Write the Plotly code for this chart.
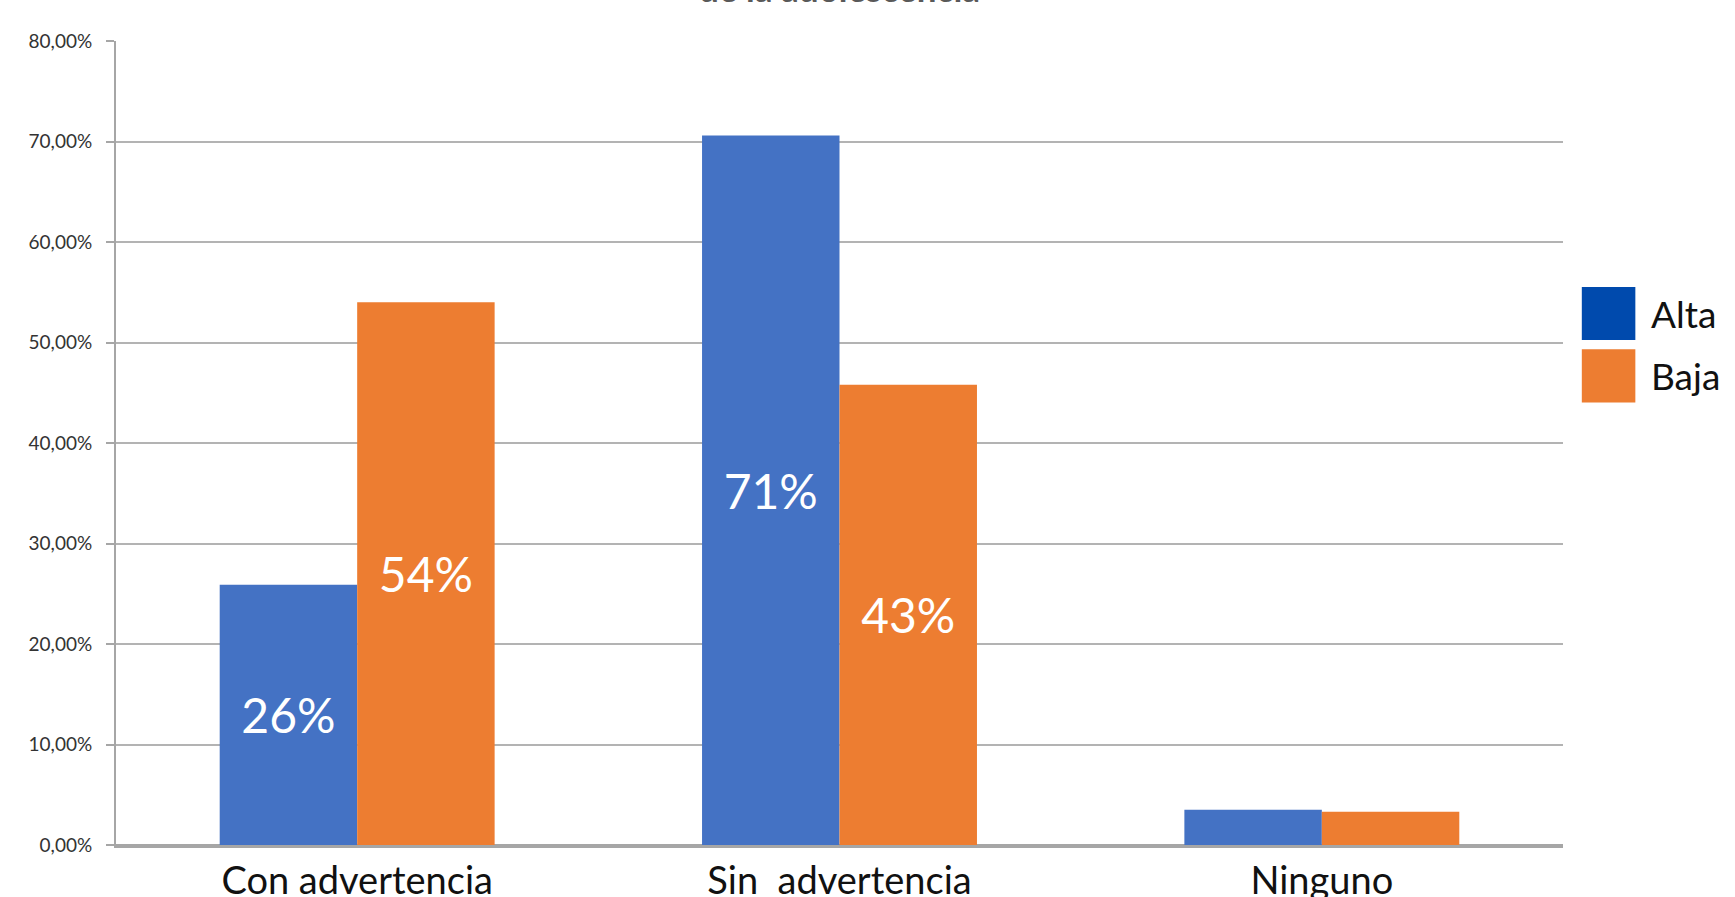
import plotly.graph_objects as go

categories = ["Con advertencia", "Sin\u00a0 advertencia", "Ninguno"]
alta = [25.9, 70.6, 3.5]
baja = [54.0, 45.8, 3.3]
alta_labels = ["26%", "71%", ""]
baja_labels = ["54%", "43%", ""]
series_names = ["Alta", "Baja"]
bar_colors = ["#4472C4", "#ED7D31"]
legend_colors = ["#004AAD", "#ED7D31"]
title_text = "de la adolescencia"

FONT = "Lato"

fig = go.Figure()
for name, vals, labels, col in zip(series_names, [alta, baja], [alta_labels, baja_labels], bar_colors):
    fig.add_trace(go.Bar(
        x=categories, y=vals, name=name, marker_color=col, marker_line_width=0,
        text=labels, textposition="inside", insidetextanchor="middle",
        textfont=dict(family=FONT, size=48, color="white"),
        showlegend=False, cliponaxis=False,
    ))

# custom legend (large swatches)
for i, (name, col) in enumerate(zip(series_names, legend_colors)):
    y_top = 0.694 - i * 0.0775
    fig.add_shape(type="rect", xref="paper", yref="paper",
                  x0=1.013, x1=1.050, y0=y_top - 0.066, y1=y_top,
                  fillcolor=col, line_width=0)
    fig.add_annotation(xref="paper", yref="paper", x=1.0595, y=y_top - 0.033,
                       text=name, showarrow=False, xanchor="left", yanchor="middle",
                       font=dict(family=FONT, size=37, color="#111111"))

fig.add_annotation(xref="paper", yref="paper", x=0.5, y=1.037, text="<b>" + title_text + "</b>",
                   showarrow=False, xanchor="center", yanchor="bottom",
                   font=dict(family=FONT, size=35, color="#595959"))

fig.update_layout(
    width=1735, height=897,
    margin=dict(l=116, r=172, t=41, b=52, autoexpand=False),
    paper_bgcolor="white", plot_bgcolor="white",
    barmode="group", bargap=0.43, bargroupgap=0,
    separators=",.",
    showlegend=False,
)
fig.update_yaxes(range=[0, 80], dtick=10, tickformat=".2f", ticksuffix="%",
                 showgrid=True, gridcolor="#B3B3B3", gridwidth=2,
                 showline=True, linecolor="#A6A6A6", linewidth=2,
                 ticks="outside", ticklen=8, tickcolor="#A6A6A6", tickwidth=2,
                 ticklabelstandoff=10,
                 tickfont=dict(family=FONT, size=19, color="#333333"),
                 zeroline=True, zerolinecolor="#A6A6A6", zerolinewidth=3,
                 automargin=False)
fig.update_xaxes(showline=True, linecolor="#A6A6A6", linewidth=3, showgrid=False,
                 tickfont=dict(family=FONT, size=38, color="#111111"), ticks="",
                 automargin=False)

fig.write_html("out.html")
